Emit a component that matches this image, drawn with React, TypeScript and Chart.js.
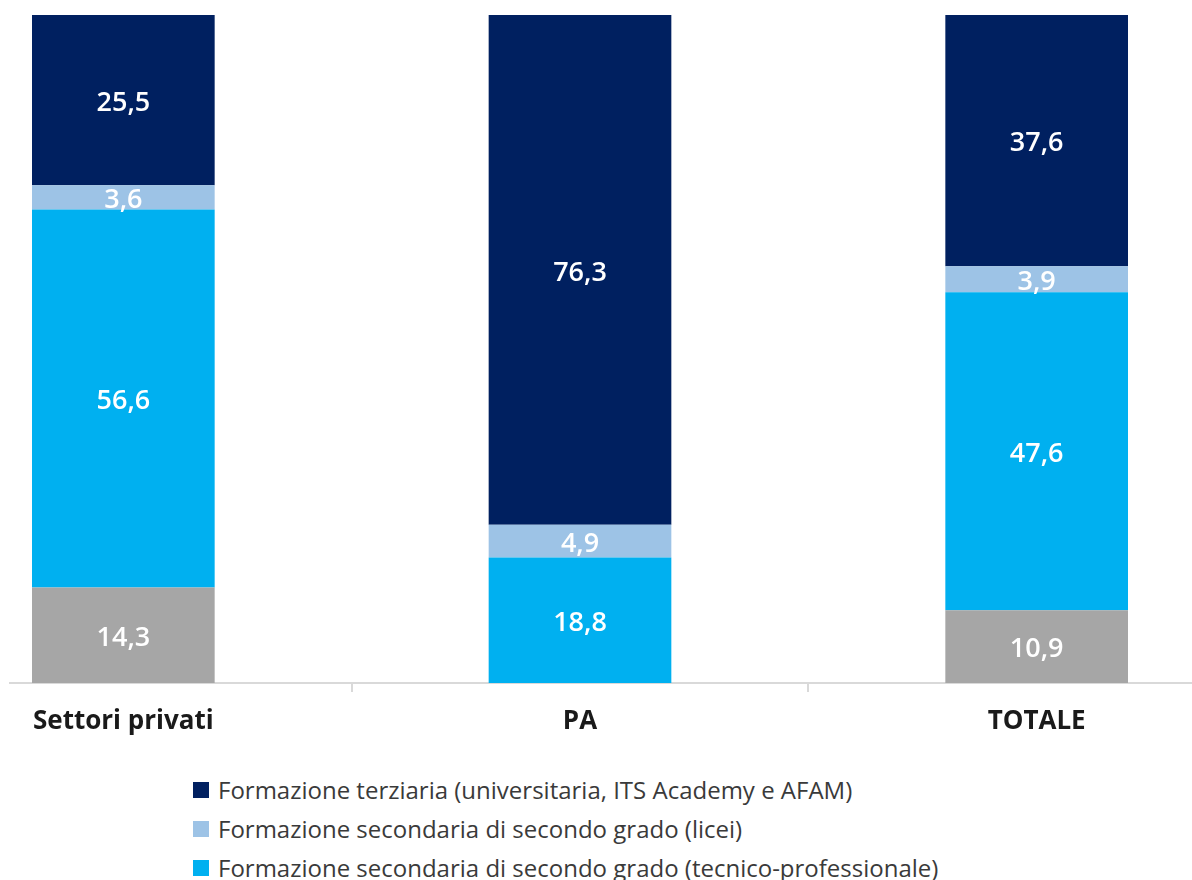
import React, { useEffect, useRef } from "react";
import { Chart, registerables } from "chart.js";

Chart.register(...registerables);

const categories = ["Settori privati", "PA", "TOTALE"];
const seriesNames = [
  "Formazione terziaria (universitaria, ITS Academy e AFAM)",
  "Formazione secondaria di secondo grado (licei)",
  "Formazione secondaria di secondo grado (tecnico-professionale)",
  "Qualifica professionale e scuola dell'obbligo",
];
const terziaria = [25.5, 76.3, 37.6];
const licei = [3.6, 4.9, 3.9];
const tecnico = [56.6, 18.8, 47.6];
const qualifica = [14.3, 0, 10.9];
const colors = ["#002060", "#9DC3E6", "#00B0F0", "#A6A6A6"];

const FONT = "'Open Sans', 'Noto Sans', sans-serif";

const barLabels = {
  id: "barLabels",
  afterDatasetsDraw(chart: any) {
    const ctx = chart.ctx;
    ctx.save();
    ctx.fillStyle = "#ffffff";
    ctx.font = `600 27px ${FONT}`;
    ctx.textAlign = "center";
    ctx.textBaseline = "middle";
    chart.data.datasets.forEach((ds: any, di: number) => {
      const meta = chart.getDatasetMeta(di);
      meta.data.forEach((el: any, i: number) => {
        const v = ds.data[i];
        if (!v) return;
        const y = (el.y + el.base) / 2 + 3;
        ctx.fillText(v.toFixed(1).replace(".", ","), el.x, y);
      });
    });
    ctx.restore();
  },
};

export default function App() {
  const ref = useRef<HTMLCanvasElement>(null);
  useEffect(() => {
    if (!ref.current) return;
    const chart = new Chart(ref.current, {
      type: "bar",
      data: {
        labels: categories,
        datasets: [
          { label: seriesNames[3], data: qualifica, backgroundColor: colors[3] },
          { label: seriesNames[2], data: tecnico, backgroundColor: colors[2] },
          { label: seriesNames[1], data: licei, backgroundColor: colors[1] },
          { label: seriesNames[0], data: terziaria, backgroundColor: colors[0] },
        ],
      },
      options: {
        animation: false,
        responsive: false,
        maintainAspectRatio: false,
        layout: { padding: { top: 10, left: 0, right: 0, bottom: 0 } },
        datasets: { bar: { barPercentage: 0.4, categoryPercentage: 1 } },
        plugins: { legend: { display: false }, tooltip: { enabled: false } },
        scales: {
          x: {
            stacked: true,
            offset: true,
            grid: {
              display: true,
              offset: true,
              drawOnChartArea: false,
              drawTicks: true,
              tickLength: 9,
              color: "#d9d9d9",
              lineWidth: 2,
            },
            border: { display: true, color: "#d9d9d9", width: 2 },
            ticks: {
              color: "#1a1a1a",
              font: { family: FONT, size: 26, weight: "bold" },
              padding: 14,
            },
            afterFit: (scale: any) => {
              scale.height = 60;
            },
          },
          y: {
            stacked: true,
            display: false,
            min: 0,
            max: 100,
          },
        },
      },
      plugins: [barLabels],
    });
    return () => chart.destroy();
  }, []);

  const legendItems = [0, 1, 2, 3];

  return (
    <div
      style={{
        position: "fixed",
        left: 0,
        top: 0,
        width: 1192,
        height: 880,
        overflow: "hidden",
        background: "#fff",
      }}
    >
      <div
        style={{
          position: "absolute",
          left: 9,
          top: 0,
          width: 1183,
          height: 880,
          overflow: "hidden",
        }}
      >
        <canvas
          ref={ref}
          width={1370}
          height={738}
          style={{ position: "absolute", left: -114, top: 5, width: 1370, height: 738 }}
        />
      </div>
      <div style={{ position: "absolute", left: 193, top: 770 }}>
        {legendItems.map((i) => (
          <div
            key={i}
            style={{
              display: "flex",
              alignItems: "center",
              height: 39,
              fontFamily: FONT,
              fontSize: 24,
              color: "#3a3a3a",
              whiteSpace: "nowrap",
            }}
          >
            <span
              style={{
                display: "inline-block",
                width: 16,
                height: 16,
                background: colors[i],
                marginRight: 9,
              }}
            />
            <span>{seriesNames[i]}</span>
          </div>
        ))}
      </div>
    </div>
  );
}
